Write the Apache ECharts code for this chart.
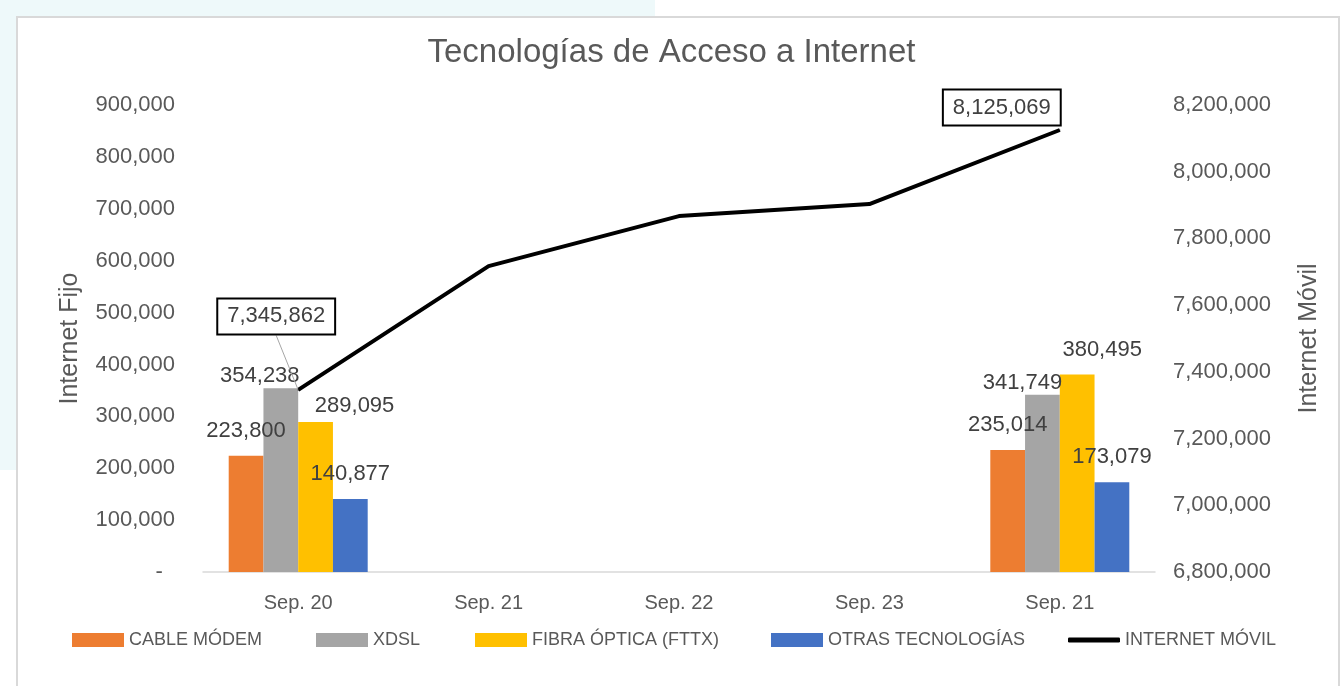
<!DOCTYPE html>
<html>
<head>
<meta charset="utf-8">
<script src="https://cdn.jsdelivr.net/npm/echarts@6/dist/echarts.min.js"></script>
<style>
  html, body { margin: 0; padding: 0; background: #fff; }
  #main { width: 1343px; height: 686px; }
</style>
</head>
<body>
<div id="main"></div>
<script>
// datos
var categorias = ['Sep. 20', 'Sep. 21', 'Sep. 22', 'Sep. 23', 'Sep. 21'];
var cableModem = [223800, null, null, null, 235014];
var xdsl = [354238, null, null, null, 341749];
var fibraOptica = [289095, null, null, null, 380495];
var otrasTec = [140877, null, null, null, 173079];
var internetMovil = [7345862, 7717000, 7867000, 7903000, 8125069];

var fijoTicks = { min: 0, max: 900000, interval: 100000 };
var movilTicks = { min: 6800000, max: 8200000, interval: 200000 };

// desplazamiento de etiquetas (como en el original de Excel)
var offCable = [[0, -9], null, null, null, [0, -9]];
var offXdsl = [[-21, 4], null, null, null, [-20, 4]];
var offFibra = [[39, 0], null, null, null, [25, -9]];
var offOtras = [[0, -9], null, null, null, [0, -9]];

var txt = '#595959';
var fnt = 'Liberation Sans';

function fmt(v) {
    return Number(v).toLocaleString('en-US');
}

function barSerie(nombre, datos, offs, color) {
    return {
        name: nombre,
        type: 'bar',
        yAxisIndex: 0,
        barGap: 0,
        barCategoryGap: '27%',
        itemStyle: { color: color },
        data: datos.map(function (v, i) {
            var o = offs[i] || [0, 0];
            return { value: v, label: { offset: o } };
        }),
        label: {
            show: true,
            position: 'top',
            color: '#404040',
            fontSize: 22,
            fontFamily: fnt,
            formatter: function (p) { return fmt(p.value); }
        }
    };
}

var chart = echarts.init(document.getElementById('main'));
var option = {
    animation: false,
    backgroundColor: '#fff',
    graphic: [
        { type: 'rect', shape: { x: 0, y: 0, width: 655, height: 16 }, style: { fill: '#eef9fa' }, z: -1 },
        { type: 'rect', shape: { x: 0, y: 0, width: 16, height: 470 }, style: { fill: '#eef9fa' }, z: -1 },
        { type: 'rect', shape: { x: 17, y: 17, width: 1322, height: 690 }, style: { fill: 'none', stroke: '#d9d9d9', lineWidth: 2 } }
    ],
    title: {
        text: 'Tecnologías de Acceso a Internet',
        left: 'center',
        top: 31,
        textStyle: { color: txt, fontSize: 33, fontWeight: 'normal', fontFamily: fnt }
    },
    legend: [
        { left: 72, data: ['CABLE MÓDEM'] },
        { left: 316, data: ['XDSL'] },
        { left: 475, data: ['FIBRA ÓPTICA (FTTX)'] },
        { left: 771, data: ['OTRAS TECNOLOGÍAS'] },
        { left: 1068, data: [{ name: 'INTERNET MÓVIL', icon: 'roundRect' }], itemHeight: 5 }
    ].map(function (l) {
        return Object.assign({
            top: 631,
            padding: 0,
            itemWidth: 52,
            itemHeight: 14,
            icon: 'rect',
            textStyle: { color: txt, fontSize: 18, fontFamily: fnt }
        }, l);
    }),
    grid: { left: 203, right: 188, top: 105, bottom: 114 },
    xAxis: {
        type: 'category',
        data: categorias,
        axisLine: { lineStyle: { color: '#d9d9d9', width: 1.5 } },
        axisTick: { show: false },
        axisLabel: { color: txt, fontSize: 20, fontFamily: fnt, margin: 21 }
    },
    yAxis: [
        {
            type: 'value',
            min: fijoTicks.min, max: fijoTicks.max, interval: fijoTicks.interval,
            name: 'Internet Fijo',
            nameLocation: 'middle',
            nameRotate: 90,
            nameGap: 120,
            nameTextStyle: { color: txt, fontSize: 25, fontFamily: fnt },
            splitLine: { show: false },
            axisLine: { show: false },
            axisTick: { show: false },
            axisLabel: {
                color: txt, fontSize: 22, fontFamily: fnt, margin: 28,
                formatter: function (v) { return v === 0 ? '-  ' : fmt(v); }
            }
        },
        {
            type: 'value',
            min: movilTicks.min, max: movilTicks.max, interval: movilTicks.interval,
            name: 'Internet Móvil',
            nameLocation: 'middle',
            nameRotate: 90,
            nameGap: 142,
            nameTextStyle: { color: txt, fontSize: 25, fontFamily: fnt },
            splitLine: { show: false },
            axisLine: { show: false },
            axisTick: { show: false },
            axisLabel: {
                color: txt, fontSize: 22, fontFamily: fnt, margin: 18,
                formatter: function (v) { return fmt(v); }
            }
        }
    ],
    series: [
        barSerie('CABLE MÓDEM', cableModem, offCable, '#ED7D31'),
        barSerie('XDSL', xdsl, offXdsl, '#A5A5A5'),
        barSerie('FIBRA ÓPTICA (FTTX)', fibraOptica, offFibra, '#FFC000'),
        barSerie('OTRAS TECNOLOGÍAS', otrasTec, offOtras, '#4472C4'),
        {
            name: 'INTERNET MÓVIL',
            type: 'line',
            yAxisIndex: 1,
            symbol: 'circle',
            symbolSize: 1,
            showSymbol: true,
            color: '#000',
            itemStyle: { color: '#000' },
            lineStyle: { color: '#000', width: 4 },
            z: 5,
            data: internetMovil.map(function (v, i) {
                var ext = (i === 0 || i === internetMovil.length - 1);
                return {
                    value: v,
                    label: { show: ext },
                    labelLine: { show: i === 0 }
                };
            }),
            label: {
                show: false,
                position: 'top',
                color: '#404040',
                fontSize: 22,
                fontFamily: fnt,
                backgroundColor: '#fff',
                borderColor: '#000',
                borderWidth: 2,
                padding: [6, 9],
                formatter: function (p) { return fmt(p.value); }
            },
            labelLine: { show: true, lineStyle: { color: '#a6a6a6', width: 1 } },
            labelLayout: function (p) {
                if (p.dataIndex === 0) return { dx: -22, dy: -51 };
                return { dx: -58, dy: 0 };
            }
        }
    ]
};
chart.setOption(option);
</script>
</body>
</html>
